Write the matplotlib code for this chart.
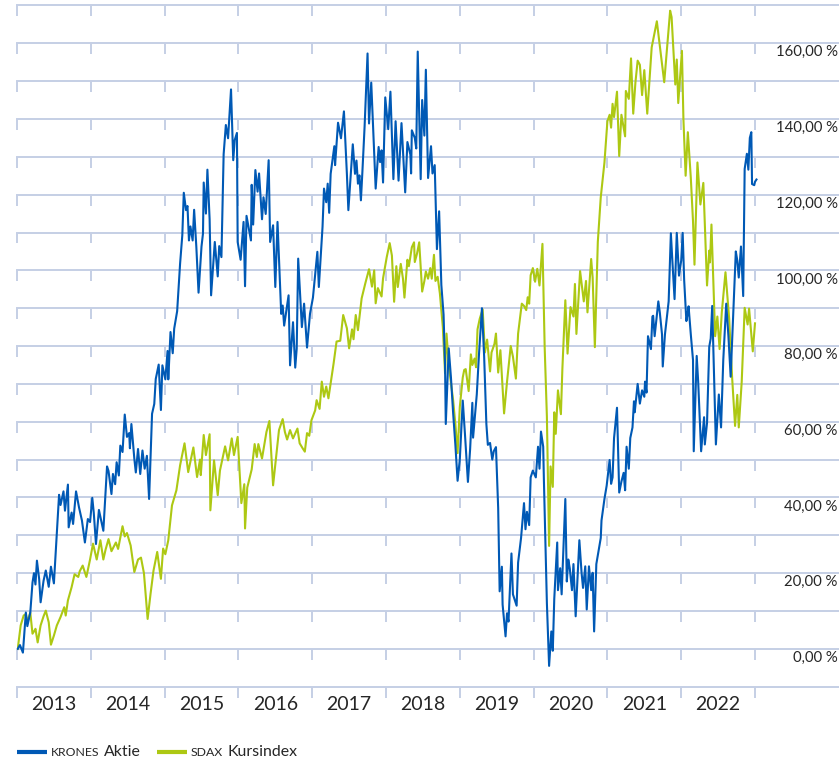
import matplotlib
matplotlib.use('Agg')
import matplotlib.pyplot as plt
from matplotlib.lines import Line2D

# Wertentwicklung in % (Startwert 2013 = 0), Zeit in Dezimaljahren
krones_t = [
    2013.01, 2013.04, 2013.08, 2013.12, 2013.14, 2013.18, 2013.21, 2013.23, 2013.25, 2013.27,
    2013.30, 2013.32, 2013.36, 2013.39, 2013.43, 2013.46, 2013.50, 2013.57, 2013.59, 2013.63,
    2013.65, 2013.69, 2013.70, 2013.74, 2013.76, 2013.80, 2013.84, 2013.88, 2013.92, 2013.96,
    2013.99, 2014.02, 2014.04, 2014.07, 2014.11, 2014.17, 2014.22, 2014.24, 2014.28, 2014.30,
    2014.33, 2014.35, 2014.38, 2014.40, 2014.43, 2014.46, 2014.49, 2014.52, 2014.53, 2014.55,
    2014.59, 2014.61, 2014.64, 2014.67, 2014.70, 2014.73, 2014.76, 2014.79, 2014.83, 2014.86,
    2014.88, 2014.92, 2014.95, 2014.97, 2015.01, 2015.04, 2015.05, 2015.08, 2015.11, 2015.13,
    2015.17, 2015.21, 2015.24, 2015.26, 2015.29, 2015.31, 2015.33, 2015.35, 2015.38, 2015.40,
    2015.43, 2015.46, 2015.50, 2015.52, 2015.53, 2015.56, 2015.58, 2015.61, 2015.63, 2015.68,
    2015.72, 2015.74, 2015.77, 2015.80, 2015.83, 2015.86, 2015.90, 2015.93, 2015.95, 2015.98,
    2015.99, 2016.03, 2016.07, 2016.09, 2016.11, 2016.17, 2016.18, 2016.20, 2016.23, 2016.26,
    2016.28, 2016.32, 2016.34, 2016.37, 2016.41, 2016.43, 2016.47, 2016.50, 2016.53, 2016.58,
    2016.60, 2016.62, 2016.68, 2016.70, 2016.74, 2016.77, 2016.79, 2016.81, 2016.86, 2016.89,
    2016.93, 2016.97, 2017.01, 2017.07, 2017.09, 2017.14, 2017.16, 2017.19, 2017.21, 2017.23,
    2017.25, 2017.30, 2017.31, 2017.35, 2017.39, 2017.43, 2017.47, 2017.49, 2017.55, 2017.58,
    2017.60, 2017.62, 2017.64, 2017.66, 2017.68, 2017.71, 2017.75, 2017.77, 2017.80, 2017.86,
    2017.90, 2017.92, 2017.94, 2017.96, 2017.99, 2018.03, 2018.06, 2018.10, 2018.13, 2018.17,
    2018.21, 2018.26, 2018.29, 2018.33, 2018.34, 2018.35, 2018.39, 2018.41, 2018.43, 2018.47,
    2018.49, 2018.52, 2018.54, 2018.57, 2018.61, 2018.63, 2018.66, 2018.69, 2018.72, 2018.75,
    2018.78, 2018.80, 2018.81, 2018.85, 2018.88, 2018.91, 2018.94, 2018.97, 2019.00, 2019.04,
    2019.07, 2019.11, 2019.14, 2019.17, 2019.18, 2019.23, 2019.26, 2019.30, 2019.33, 2019.36,
    2019.38, 2019.41, 2019.44, 2019.46, 2019.49, 2019.52, 2019.54, 2019.57, 2019.58, 2019.62,
    2019.64, 2019.66, 2019.70, 2019.72, 2019.77, 2019.79, 2019.83, 2019.87, 2019.89, 2019.91,
    2019.94, 2019.96, 2019.99, 2020.03, 2020.06, 2020.08, 2020.10, 2020.13, 2020.14, 2020.18,
    2020.21, 2020.24, 2020.26, 2020.28, 2020.32, 2020.33, 2020.36, 2020.38, 2020.43, 2020.45,
    2020.47, 2020.49, 2020.52, 2020.54, 2020.57, 2020.62, 2020.65, 2020.67, 2020.70, 2020.72,
    2020.75, 2020.78, 2020.80, 2020.82, 2020.85, 2020.88, 2020.91, 2020.92, 2020.96, 2020.99,
    2021.03, 2021.05, 2021.07, 2021.09, 2021.13, 2021.16, 2021.19, 2021.22, 2021.24, 2021.26,
    2021.29, 2021.31, 2021.34, 2021.36, 2021.37, 2021.41, 2021.44, 2021.47, 2021.50, 2021.51,
    2021.53, 2021.55, 2021.59, 2021.61, 2021.62, 2021.64, 2021.69, 2021.71, 2021.74, 2021.75,
    2021.78, 2021.83, 2021.86, 2021.88, 2021.91, 2021.94, 2021.97, 2022.00, 2022.02, 2022.04,
    2022.07, 2022.09, 2022.10, 2022.13, 2022.16, 2022.17, 2022.21, 2022.23, 2022.27, 2022.31,
    2022.32, 2022.35, 2022.38, 2022.40, 2022.42, 2022.47, 2022.51, 2022.54, 2022.57, 2022.61,
    2022.64, 2022.67, 2022.71, 2022.74, 2022.76, 2022.78, 2022.81, 2022.84, 2022.86, 2022.89,
    2022.91, 2022.93, 2022.95, 2022.96, 2022.99, 2023.00, 2023.02,
]
krones_v = [
    0, 1, -1, 9.6, 6, 9.6, 17.5, 20, 17, 23.3,
    18.5, 12.3, 18, 20.7, 16.4, 21.7, 17.3, 40.7, 38, 41.6,
    36.5, 43.4, 32.1, 36, 33, 41.6, 37.4, 33.9, 28.1, 34.3,
    33.5, 39.9, 36, 27.7, 36.7, 31.2, 48.2, 47, 40.9, 46.2,
    43.5, 49.3, 45.8, 53.7, 52, 61.9, 56, 57, 53, 59.4,
    50.2, 46.6, 52.8, 46.2, 52.4, 47.6, 51, 39.6, 62.1, 64.7,
    71.3, 75.1, 63.1, 74.9, 71.2, 78.7, 71.2, 83.7, 78.1, 84.6,
    89.2, 101.8, 109.3, 120.5, 115.9, 117, 107.9, 111.6, 107.9, 116,
    106.2, 94.1, 106.3, 109.7, 123.2, 115, 126.6, 113.5, 93.4, 107.5,
    98.4, 106.4, 103.5, 130.7, 138.4, 134.9, 147.8, 129.1, 134.4, 136.3,
    107.5, 102.8, 112.8, 95.8, 114.4, 107.9, 122.6, 112.1, 126.5, 120.8,
    125.6, 113.5, 119.3, 114.9, 129.1, 107.5, 111.9, 95.6, 112.8, 88.5,
    90.7, 85.4, 93.4, 74.9, 86.3, 74.3, 79.3, 103.1, 85, 91.2,
    79.6, 88.5, 92.8, 104.9, 95.6, 111.5, 121.6, 118, 122.9, 115.2,
    125.5, 132.8, 127.8, 139, 134.9, 142, 125.5, 115.9, 133.3, 125.5,
    129, 122.9, 125.1, 118.5, 126, 138, 157.3, 138.8, 149.6, 121.6,
    132.6, 128.6, 131.7, 123.2, 145.7, 137.3, 147.2, 124.1, 139.4, 123.7,
    138.9, 120.6, 133.9, 130.6, 125.6, 137, 135, 132.2, 157.8, 124.1,
    145, 135.6, 153, 124.4, 132.8, 125.6, 127.8, 105.6, 115.6, 96.1,
    88.3, 75, 59.4, 79.4, 71.7, 62.2, 53.9, 44.4, 50, 65.6,
    56.7, 44.1, 52.8, 65, 55.8, 67.2, 77.8, 90, 77.2, 59.4,
    53.9, 54.4, 50, 52.2, 53.3, 37.2, 15.2, 21.7, 11.7, 3.3,
    9.4, 7.2, 25.2, 14.4, 11.4, 22.8, 29.3, 38.5, 31.6, 36.2,
    32.7, 45.3, 47.1, 45.3, 53.4, 47.6, 57.4, 53.4, 44.2, 12.1,
    -4.5, 4.6, -0.5, 13.2, 28.1, 15.5, 21.3, 14.4, 39.6, 17.8,
    23.6, 21.3, 15.5, 22.4, 8.6, 28.7, 20.1, 16.1, 21.8, 10.4,
    21.8, 15.5, 20.1, 4.6, 22.4, 25.9, 29.3, 33.9, 39.6, 43.1,
    49.9, 43.6, 45.3, 55.7, 63.7, 41.3, 44.2, 46.5, 41.9, 53.4,
    47.6, 55.7, 58.5, 65.4, 62.5, 70, 64.8, 68.3, 66.6, 70.6,
    67.7, 82.6, 79.2, 87.8, 88, 82.6, 91.8, 88.9, 83.1, 74.6,
    83.1, 91.8, 109.8, 102.6, 92.4, 109.9, 98.6, 102.6, 109.9, 97.5,
    86.6, 88.9, 90.5, 83.1, 76.3, 52.2, 77.4, 70.6, 52.2, 61.2,
    54, 59.7, 79.8, 82, 90.6, 54, 67.2, 58.5, 76.3, 91.2,
    82.6, 71.9, 90.6, 105, 102.6, 98.1, 106.3, 93.2, 126.8, 130.8,
    126.6, 135, 136.5, 122.8, 122.5, 123.4, 124,
]

sdax_t = [
    2013.01, 2013.05, 2013.09, 2013.12, 2013.14, 2013.18, 2013.21, 2013.24, 2013.25, 2013.28,
    2013.32, 2013.36, 2013.39, 2013.43, 2013.46, 2013.50, 2013.54, 2013.59, 2013.64, 2013.66,
    2013.69, 2013.74, 2013.78, 2013.83, 2013.85, 2013.89, 2013.94, 2013.99, 2014.03, 2014.08,
    2014.13, 2014.17, 2014.20, 2014.24, 2014.28, 2014.34, 2014.37, 2014.43, 2014.46, 2014.49,
    2014.54, 2014.59, 2014.64, 2014.68, 2014.72, 2014.77, 2014.81, 2014.85, 2014.90, 2014.95,
    2014.98, 2015.01, 2015.05, 2015.10, 2015.16, 2015.21, 2015.27, 2015.32, 2015.39, 2015.44,
    2015.48, 2015.49, 2015.53, 2015.56, 2015.61, 2015.62, 2015.67, 2015.72, 2015.75, 2015.82,
    2015.86, 2015.91, 2015.94, 2015.99, 2016.04, 2016.08, 2016.09, 2016.12, 2016.18, 2016.22,
    2016.25, 2016.27, 2016.32, 2016.38, 2016.42, 2016.47, 2016.55, 2016.60, 2016.63, 2016.66,
    2016.70, 2016.74, 2016.80, 2016.83, 2016.87, 2016.90, 2016.93, 2016.96, 2016.99, 2017.04,
    2017.06, 2017.10, 2017.13, 2017.16, 2017.19, 2017.22, 2017.29, 2017.33, 2017.38, 2017.42,
    2017.47, 2017.50, 2017.54, 2017.56, 2017.59, 2017.62, 2017.67, 2017.72, 2017.77, 2017.81,
    2017.84, 2017.86, 2017.89, 2017.94, 2017.96, 2018.01, 2018.05, 2018.08, 2018.11, 2018.14,
    2018.16, 2018.20, 2018.23, 2018.25, 2018.29, 2018.31, 2018.35, 2018.38, 2018.39, 2018.42,
    2018.45, 2018.49, 2018.52, 2018.54, 2018.57, 2018.60, 2018.62, 2018.65, 2018.67, 2018.70,
    2018.73, 2018.77, 2018.80, 2018.82, 2018.85, 2018.91, 2018.94, 2018.97, 2019.00, 2019.04,
    2019.06, 2019.08, 2019.12, 2019.15, 2019.17, 2019.20, 2019.22, 2019.24, 2019.27, 2019.31,
    2019.34, 2019.37, 2019.41, 2019.43, 2019.47, 2019.49, 2019.52, 2019.55, 2019.60, 2019.64,
    2019.69, 2019.72, 2019.76, 2019.79, 2019.84, 2019.87, 2019.90, 2019.92, 2019.94, 2019.96,
    2019.99, 2020.02, 2020.05, 2020.08, 2020.12, 2020.15, 2020.18, 2020.21, 2020.23, 2020.26,
    2020.28, 2020.30, 2020.33, 2020.37, 2020.39, 2020.43, 2020.46, 2020.50, 2020.54, 2020.56,
    2020.58, 2020.63, 2020.68, 2020.71, 2020.73, 2020.78, 2020.80, 2020.83, 2020.87, 2020.91,
    2020.96, 2021.00, 2021.03, 2021.05, 2021.07, 2021.09, 2021.13, 2021.16, 2021.19, 2021.24,
    2021.25, 2021.29, 2021.32, 2021.35, 2021.38, 2021.41, 2021.44, 2021.47, 2021.50, 2021.54,
    2021.60, 2021.67, 2021.77, 2021.85, 2021.87, 2021.92, 2021.94, 2021.96, 2022.01, 2022.03,
    2022.06, 2022.09, 2022.13, 2022.16, 2022.18, 2022.22, 2022.26, 2022.30, 2022.35, 2022.38,
    2022.39, 2022.41, 2022.46, 2022.49, 2022.52, 2022.55, 2022.60, 2022.65, 2022.69, 2022.73,
    2022.76, 2022.78, 2022.82, 2022.86, 2022.90, 2022.92, 2022.97, 2023.00,
]
sdax_v = [
    0, 6.2, 8.8, 9.2, 7, 9.6, 4, 4.9, 5.3, 1.7,
    6.2, 8.6, 10.1, 7, 1.1, 3.5, 6.2, 8.4, 11, 8.8,
    12.8, 16.3, 19.7, 19, 20.5, 22, 19, 23.6, 27.8, 23.6,
    28.7, 23.6, 26.2, 29, 25.8, 28.1, 26.4, 32.4, 29.7, 30.6,
    27.3, 20.3, 23.6, 24.1, 20, 7.9, 14.6, 20.7, 25.6, 18.5,
    26.5, 25, 28.7, 37.9, 41.9, 48.5, 54.3, 46.7, 53.2, 45.4,
    50, 45.9, 56.5, 51.2, 56.7, 36.6, 49.8, 40.6, 47.1, 53.5,
    49.8, 55.6, 51.2, 56, 38.5, 43.5, 31.8, 42.6, 47.4, 54.1,
    50.7, 54.1, 50.3, 57.3, 60.2, 43.2, 57.8, 60.7, 57.3, 55.3,
    57.8, 55.6, 58.2, 54.3, 53, 52.1, 57, 56.3, 60.4, 63,
    65.7, 63.4, 70.6, 66.6, 69.3, 66.2, 75.4, 81.2, 81.4, 88.2,
    84.7, 79.4, 84.4, 81.8, 88.2, 84.2, 92.6, 96.6, 100.3, 95.7,
    100, 91.3, 95.3, 93.1, 97.9, 103.5, 107.2, 103.9, 91.7, 101.1,
    95.6, 101.7, 97.8, 92.8, 102.8, 101.1, 106.1, 107.4, 102.2, 104.4,
    107.4, 94.4, 97.2, 99.7, 97.8, 100.6, 97.8, 104.1, 97.2, 98.3,
    93.9, 85, 72.8, 83.3, 75, 65.6, 59.4, 51.7, 63.9, 71.7,
    73.7, 73.9, 68.1, 77.8, 75, 76.7, 74.4, 84.4, 87.2, 89.7,
    78.3, 81.7, 73.3, 78.3, 80.6, 83.3, 73, 78.9, 62.2, 70.6,
    80, 77.2, 71.4, 83.3, 91.2, 90.6, 89.5, 92.9, 91.2, 98.7,
    100.6, 97, 100.4, 96, 107, 79.7, 61.4, 27.2, 48.2, 42.8,
    62.5, 56.8, 68.3, 62, 74, 92.1, 78, 90.3, 87.8, 96.4,
    83.2, 99.8, 91.8, 97.2, 88.9, 103, 98.1, 79.7, 107.5, 119.3,
    128.5, 139.4, 141.1, 137.7, 144, 140.5, 147.2, 130.2, 141.1, 135.4,
    147.4, 145.3, 156, 141.4, 149.7, 155.4, 154.3, 146.3, 152.9, 141.4,
    158.9, 165.8, 149.7, 168.6, 166.9, 149.1, 155.7, 144.2, 158, 140,
    125, 136.5, 124.5, 113, 101.5, 128.5, 117.4, 123.1, 96, 105.2,
    102.1, 112.1, 82.6, 87.8, 79.2, 88.9, 99.5, 87.2, 71.7, 58.9,
    67.1, 58.5, 70.6, 90.1, 85.7, 89.9, 78.6, 86,
]

jahre = list(range(2013, 2023))
y_labels = list(range(0, 161, 20))

blau = '#0059b5'
gruen = '#adc813'
gitter = '#c5cfe5'
text_farbe = '#262626'

plt.rcParams['font.family'] = ['Lato', 'DejaVu Sans']

fig = plt.figure(figsize=(8.39, 7.6), dpi=100)
ax = fig.add_axes([17 / 839, 1 - 686.7 / 760, 822 / 839, 681.3 / 760])
ax.set_xlim(2013, 2013 + 822 / 73.8)
ax.set_ylim(-10, 170)
ax.axis('off')

# Gitterlinien mit kleinen Strichen an den Jahresgrenzen
grenzen = jahre + [jahre[-1] + 1]
for g in range(-10, 171, 10):
    ax.axhline(g, color=gitter, lw=1.4, zorder=1, clip_on=False)
    ax.vlines(grenzen, g - 2.9, g, colors=gitter, lw=1.4, zorder=1, clip_on=False)

ax.plot(sdax_t, sdax_v, color=gruen, lw=1.5, zorder=3)
ax.plot(krones_t, krones_v, color=blau, lw=1.5, zorder=4)

for j in jahre:
    ax.text(j + 0.5, -14.7, str(j), ha='center', va='center',
            fontsize=14, color=text_farbe, clip_on=False)

for v in y_labels:
    ax.text(0.9985, v - 2.4, f'{v},00 %', transform=ax.get_yaxis_transform(),
            ha='right', va='center', fontsize=10.7, color=text_farbe)

# Legende
ly = 1 - 752 / 760
base = 1 - 756.5 / 760
fig.add_artist(Line2D([17 / 839, 47 / 839], [ly, ly], color=blau, lw=3,
                      solid_capstyle='butt'))
fig.add_artist(Line2D([157 / 839, 187 / 839], [ly, ly], color=gruen, lw=3,
                      solid_capstyle='butt'))

renderer = fig.canvas.get_renderer()


def legenden_text(x0, kaps, rest):
    t1 = fig.text(x0, base, kaps, fontsize=8.8, color=text_farbe, va='baseline')
    bb = t1.get_window_extent(renderer=renderer)
    x1 = bb.x1 / fig.bbox.width + 4.5 / 839
    fig.text(x1, base, rest, fontsize=11.4, color=text_farbe, va='baseline')


legenden_text(51 / 839, 'KRONES', 'Aktie')
legenden_text(191 / 839, 'SDAX', 'Kursindex')

fig.savefig('out.png', dpi=100)
